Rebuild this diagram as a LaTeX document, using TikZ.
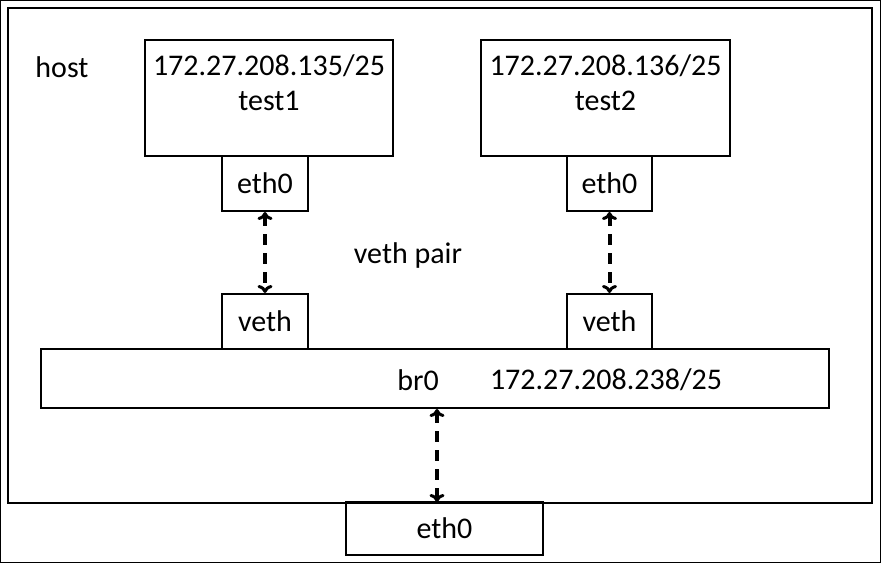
\documentclass[tikz,border=0pt]{standalone}
\usepackage{fontspec}
\setmainfont{Carlito}
\usetikzlibrary{arrows.meta,positioning}

\tikzset{
  netbox/.style={draw, line width=2pt, minimum width=#1, inner sep=0pt},
  link/.style={line width=4pt, dash pattern=on 11pt off 8pt, {To[length=8pt,width=15pt,line width=3pt]}-{To[length=8pt,width=15pt,line width=3pt]}},
}

\begin{document}
\begin{tikzpicture}[x=1pt, y=-1pt, font=\fontsize{30}{36}\selectfont]
            \useasboundingbox (0,0) rectangle (881,563);
            \draw[line width=1pt] (0.5,0.5) rectangle (880.5,562.5);
            \draw[line width=2pt] (8,8) rectangle (872,503);
            \node (host) at (62,67) {host};
            % containers
            \node (test1) [netbox=248pt, minimum height=116pt] at (269,98) {};
            \node (ip1)   at ([yshift=-27pt]test1.north) {172.27.208.135/25};
            \node (name1) at ([yshift=-62pt]test1.north) {test1};
            \node (test2) [netbox=249pt, minimum height=116pt] at (605.5,98) {};
            \node (ip2)   at ([yshift=-27pt]test2.north) {172.27.208.136/25};
            \node (name2) at ([yshift=-62pt]test2.north) {test2};
            \node (eth1)  [netbox=86pt, minimum height=55pt] at (265,183.5) {eth0};
            \node (eth2)  [netbox=85pt, minimum height=55pt] at (609.5,183.5) {eth0};
            \node (pair)  at (408,255) {veth pair};
            \node (veth1) [netbox=86pt, minimum height=55pt] at (265,321.5) {veth};
            \node (veth2) [netbox=85pt, minimum height=55pt] at (609.5,321.5) {veth};
            % bridge
            \node (br0)   [netbox=788pt, minimum height=59pt] at (435,378.5) {};
            \node (brname) at (418,380) {br0};
            \node (brip)   at (606,380) {172.27.208.238/25};
            \node (eth)   [netbox=197pt, minimum height=53pt] at (444.5,528.5) {eth0};
            \coordinate (up) at (437,409);
            \coordinate (down) at (437,502);

            \draw[link] (eth1.south) -- (veth1.north);
            \draw[link] (eth2.south) -- (veth2.north);
            \draw[link] (up) -- (down);
        \end{tikzpicture}
\end{document}
